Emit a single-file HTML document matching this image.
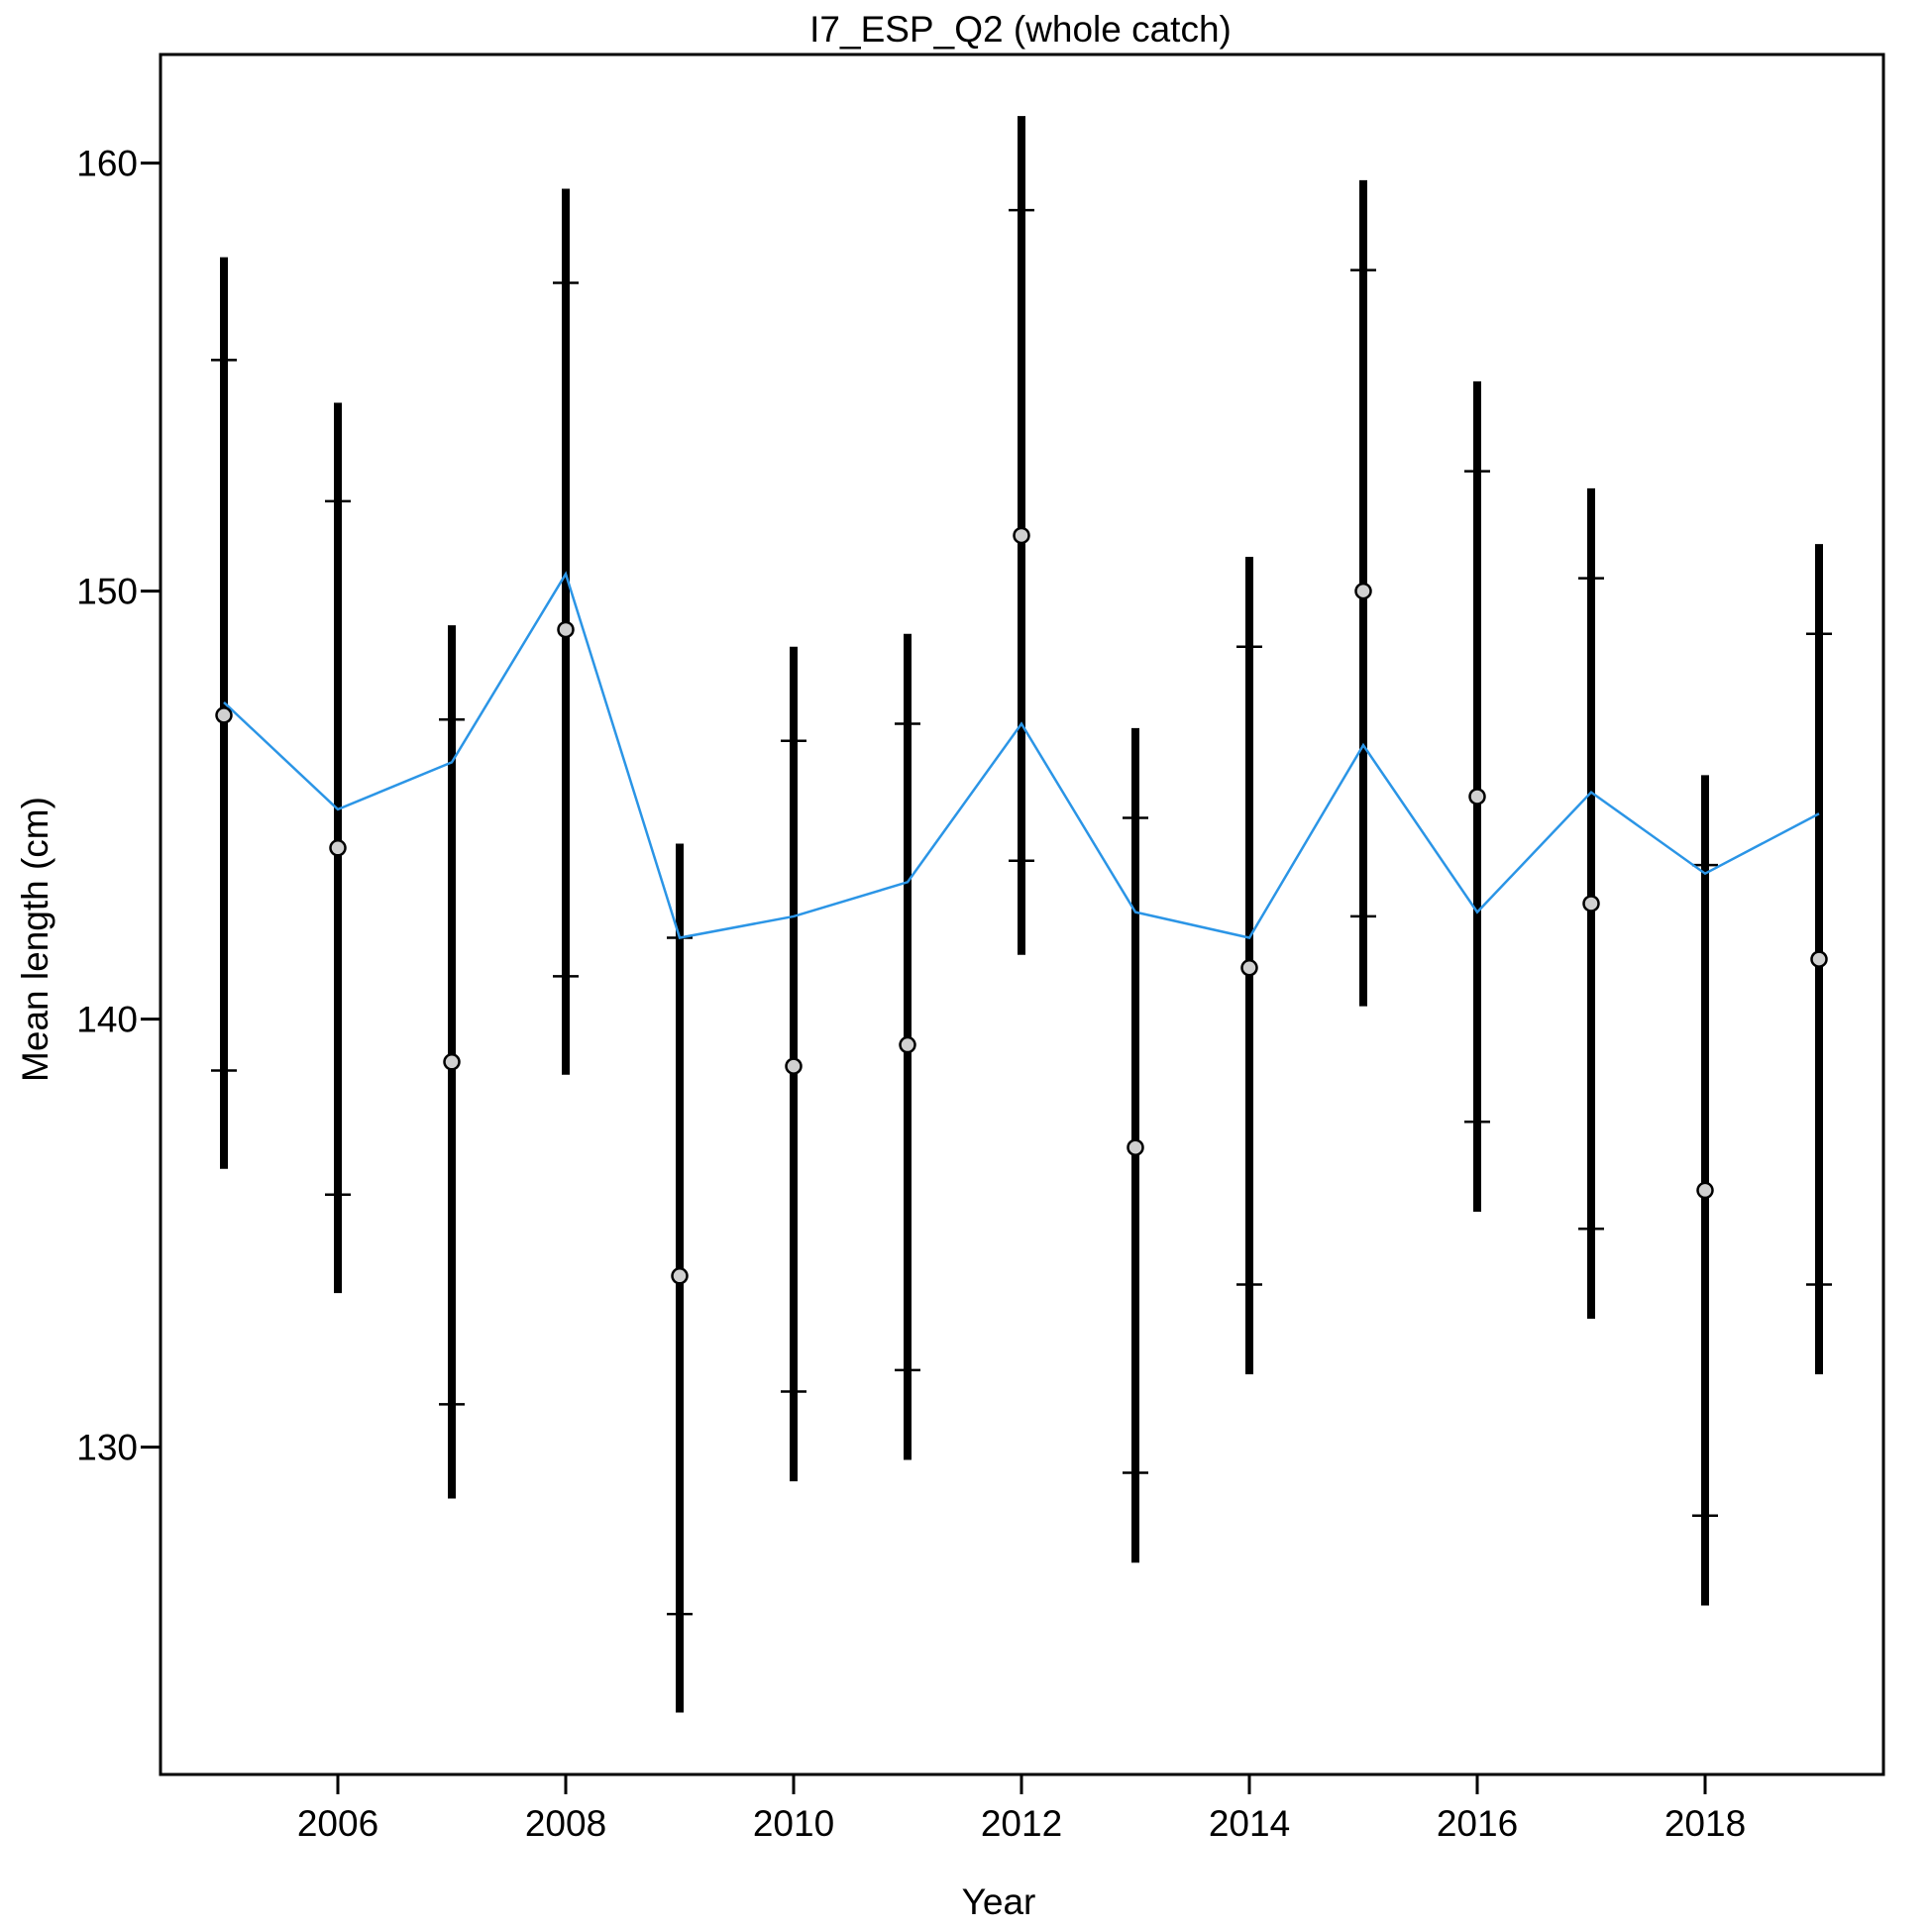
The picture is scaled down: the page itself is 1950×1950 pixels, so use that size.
<!DOCTYPE html>
<html><head><meta charset="utf-8"><style>body{margin:0;background:#fff}svg{display:block}text{font-family:"Liberation Sans",Arial,sans-serif;fill:#000}</style></head>
<body>
<svg id="chart" width="1950" height="1950" viewBox="0 0 1950 1950" xmlns="http://www.w3.org/2000/svg">
<text x="1030" y="42" font-size="37" text-anchor="middle">I7_ESP_Q2 (whole catch)</text>
<rect x="162" y="55" width="1739" height="1736" fill="none" stroke="#000" stroke-width="3"/>
<text x="1008" y="1932" font-size="37" text-anchor="middle">Year</text>
<text transform="translate(48,948) rotate(-90)" font-size="37" text-anchor="middle">Mean length (cm)</text>
<g id="axes"></g><g id="marks"></g>
</svg>
<script>
const years=[2005,2006,2007,2008,2009,2010,2011,2012,2013,2014,2015,2016,2017,2018,2019];
const topVals=[157.8,154.4,149.2,159.4,144.1,148.7,149.0,161.1,146.8,150.8,159.6,154.9,152.4,145.7,151.1];
const upperVals=[155.4,152.1,147.0,157.2,141.9,146.5,146.9,158.9,144.7,148.7,157.5,152.8,150.3,143.6,149.0];
const meanVals=[147.1,144.0,139.0,149.1,134.0,138.9,139.4,151.3,137.0,141.2,150.0,145.2,142.7,136.0,141.4];
const lowerVals=[138.8,135.9,131.0,141.0,126.1,131.3,131.8,143.7,129.4,133.8,142.4,137.6,135.1,128.4,133.8];
const bottomVals=[136.5,133.6,128.8,138.7,123.8,129.2,129.7,141.5,127.3,131.7,140.3,135.5,133.0,126.3,131.7];
const lineVals=[147.4,144.9,146.0,150.4,141.9,142.4,143.2,146.9,142.5,141.9,146.4,142.5,145.3,143.4,144.8];
const xTicks=[2006,2008,2010,2012,2014,2016,2018];
const yTicks=[130,140,150,160];
const NS="http://www.w3.org/2000/svg";
const xs=y=>341+(y-2006)*115;
const ys=v=>164.6+(160-v)*43.2;
const axes=document.getElementById('axes'),marks=document.getElementById('marks');
function mk(tag,attrs,parent){const e=document.createElementNS(NS,tag);for(const k in attrs)e.setAttribute(k,attrs[k]);parent.appendChild(e);return e;}
xTicks.forEach(t=>{
 const l=mk('line',{x1:xs(t),x2:xs(t),y1:1791,y2:1811,stroke:'#000','stroke-width':3},axes);
 
 
 const tx=mk('text',{x:xs(t),y:1853,'font-size':37,'text-anchor':'middle'},axes);tx.textContent=t;
 
 
});
yTicks.forEach(t=>{
 const l=mk('line',{x1:142,x2:162,y1:ys(t),y2:ys(t),stroke:'#000','stroke-width':3},axes);
 
 
 const tx=mk('text',{x:139,y:ys(t)+13,'font-size':37,'text-anchor':'end'},axes);tx.textContent=t;
 
 
});
years.forEach((y,i)=>{
 const x=xs(y);
 const b=mk('line',{x1:x,x2:x,y1:ys(topVals[i]),y2:ys(bottomVals[i]),stroke:'#000','stroke-width':8},marks);
 
 
 [upperVals[i],lowerVals[i]].forEach(v=>{
  const c=mk('line',{x1:x-13,x2:x+13,y1:ys(v),y2:ys(v),stroke:'#000','stroke-width':2.5},marks);
  
  
 });
});
const pl=mk('polyline',{points:years.map((y,i)=>xs(y)+','+ys(lineVals[i])).join(' '),fill:'none',stroke:'#2b95e6','stroke-width':2.5},marks);


years.forEach((y,i)=>{
 const c=mk('circle',{cx:xs(y),cy:ys(meanVals[i]),r:7.5,fill:'#d0d0d0',stroke:'#000','stroke-width':2.5},marks);
 
 
});
</script>
</body></html>
